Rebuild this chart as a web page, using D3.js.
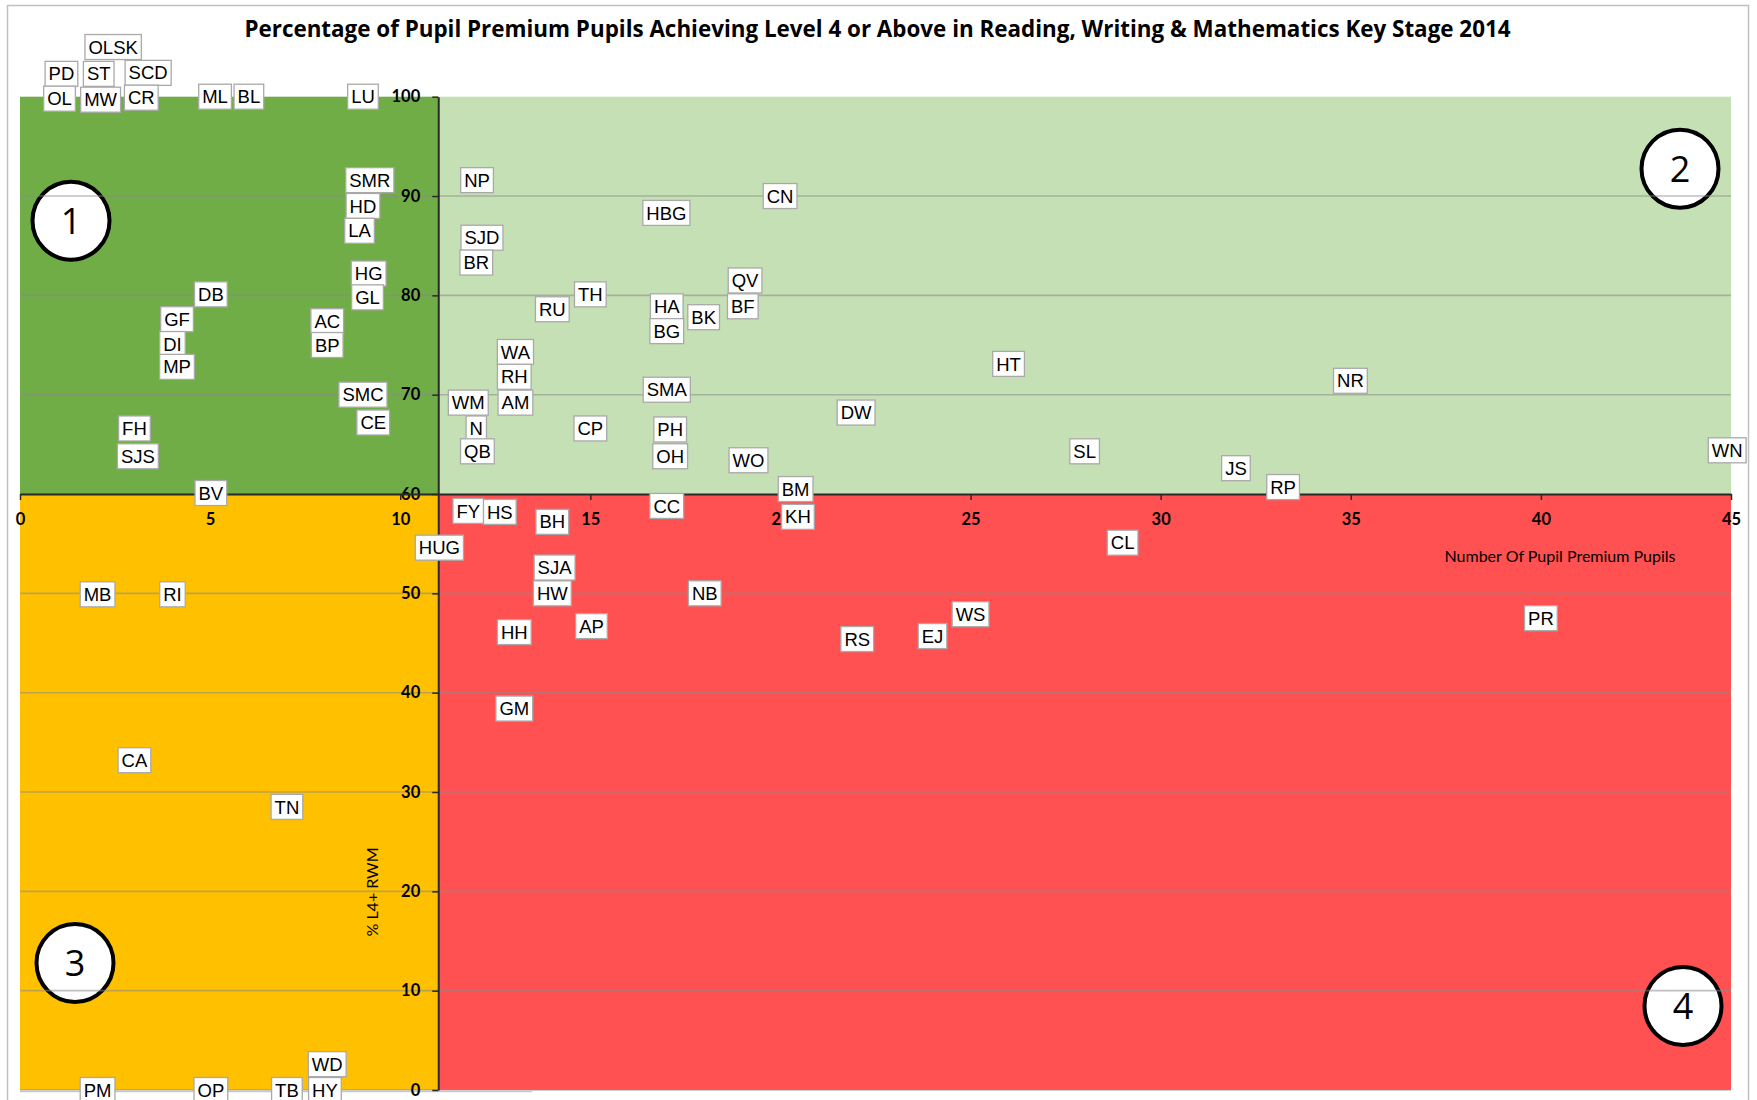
<!DOCTYPE html>
<html>
<head>
<meta charset="utf-8">
<script src="https://cdn.jsdelivr.net/npm/d3@7"></script>
<style>
    body { margin: 0; background: #fff; }
</style>
</head>
<body>
<div id="chart"></div>
<script>
'use strict';

// school codes, number of pupil premium pupils, % L4+ RWM
var schools = ['OLSK', 'PD', 'ST', 'SCD', 'OL', 'MW', 'CR', 'ML', 'BL', 'LU',
    'SMR', 'HD', 'LA', 'HG', 'GL', 'DB', 'GF', 'DI', 'MP', 'AC', 'BP', 'SMC', 'CE', 'FH', 'SJS', 'BV',
    'NP', 'SJD', 'BR', 'RU', 'TH', 'WA', 'RH', 'AM', 'WM', 'N', 'QB', 'CP',
    'HBG', 'CN', 'QV', 'BF', 'HA', 'BK', 'BG', 'SMA', 'PH', 'OH', 'WO', 'DW', 'HT', 'NR', 'SL', 'JS', 'RP', 'WN', 'BM',
    'FY', 'HS', 'BH', 'CC', 'KH', 'HUG', 'SJA', 'HW', 'NB', 'HH', 'AP', 'GM', 'CL', 'RS', 'EJ', 'WS', 'PR',
    'MB', 'RI', 'CA', 'TN', 'WD', 'PM', 'OP', 'TB', 'HY'];
var pupils = [2.45, 1.09, 2.07, 3.37, 1.04, 2.12, 3.19, 5.13, 6.02, 9.02,
    9.2, 9.02, 8.93, 9.17, 9.14, 5.02, 4.13, 4.01, 4.13, 8.08, 8.08, 9.02, 9.29, 3.01, 3.1, 5.02,
    12.02, 12.15, 12.0, 14.0, 15.0, 13.03, 13.0, 13.03, 11.79, 12.0, 12.03, 15.0,
    17.0, 19.99, 19.07, 19.01, 17.01, 17.98, 17.01, 17.01, 17.1, 17.1, 19.16, 21.99, 26.0, 34.99, 28.0, 31.98, 33.22, 44.9, 20.4,
    11.79, 12.62, 14.0, 17.01, 20.46, 11.03, 14.06, 14.0, 18.01, 13.0, 15.03, 13.0, 29.0, 22.02, 24.0, 25.0, 40.0,
    2.04, 4.01, 3.01, 7.02, 8.08, 2.04, 5.02, 7.02, 8.02];
var percents = [105.0, 102.3, 102.3, 102.4, 99.8, 99.7, 99.9, 100.0, 100.0, 100.0,
    91.6, 89.0, 86.5, 82.2, 79.8, 80.1, 77.6, 75.1, 72.8, 77.4, 75.0, 70.0, 67.2, 66.6, 63.8, 60.1,
    91.6, 85.8, 83.3, 78.6, 80.1, 74.3, 71.8, 69.2, 69.2, 66.6, 64.3, 66.6,
    88.3, 90.0, 81.5, 78.9, 78.9, 77.8, 76.4, 70.5, 66.5, 63.8, 63.4, 68.2, 73.1, 71.4, 64.3, 62.6, 60.7, 64.4, 60.5,
    58.3, 58.2, 57.2, 58.8, 57.7, 54.6, 52.6, 50.0, 50.0, 46.1, 46.7, 38.4, 55.1, 45.4, 45.7, 47.9, 47.5,
    49.9, 49.9, 33.2, 28.5, 2.6, 0, 0, 0, 0];

var xTicks = [0, 5, 10, 15, 20, 25, 30, 35, 40, 45];
var yTicks = [0, 10, 20, 30, 40, 50, 60, 70, 80, 90, 100];
var xSplit = 11;
var ySplit = 60;
var quadrantNames = ['1', '2', '3', '4'];
var quadrantColors = ['#70AD47', '#C5E0B4', '#FFC000', '#FF5151'];

var W = 1757, H = 1100;
var x = d3.scaleLinear().domain([0, 45]).range([20, 1731]);
var y = d3.scaleLinear().domain([0, 100]).range([1090, 96.7]);

var svg = d3.select('#chart').append('svg')
    .attr('width', W)
    .attr('height', H)
    .style('font-family', 'Lato, sans-serif');

// outer chart frame
svg.append('rect')
    .attr('x', 7.5).attr('y', 5.5)
    .attr('width', 1741).attr('height', 1110)
    .attr('fill', '#fff')
    .attr('stroke', '#c0c0c0')
    .attr('stroke-width', 1.5);

// quadrant blocks
var xd = x.domain(), yd = y.domain();
var blocks = [
    [xd[0], xSplit, ySplit, yd[1]],
    [xSplit, xd[1], ySplit, yd[1]],
    [xd[0], xSplit, yd[0], ySplit],
    [xSplit, xd[1], yd[0], ySplit]
];
svg.append('g').selectAll('rect')
    .data(blocks)
    .join('rect')
    .attr('x', function (b) { return x(b[0]); })
    .attr('y', function (b) { return y(b[3]); })
    .attr('width', function (b) { return x(b[1]) - x(b[0]); })
    .attr('height', function (b) { return y(b[2]) - y(b[3]); })
    .attr('fill', function (b, i) { return quadrantColors[i]; });

// numbered circles, one in the outer corner of each quadrant
var plotL = x(xd[0]), plotR = x(xd[1]), plotT = y(yd[1]), plotB = y(yd[0]);
var circlePos = [[plotL + 51, plotT + 124], [plotR - 51, plotT + 72], [plotL + 55, plotB - 127], [plotR - 48, plotB - 84]];
var circles = svg.append('g').selectAll('g')
    .data(quadrantNames)
    .join('g')
    .attr('transform', function (d, i) { return 'translate(' + circlePos[i][0] + ',' + circlePos[i][1] + ')'; });
circles.append('ellipse')
    .attr('rx', 38.5).attr('ry', 39)
    .attr('fill', '#fff')
    .attr('stroke', '#000')
    .attr('stroke-width', 4);
circles.append('text')
    .attr('text-anchor', 'middle')
    .attr('dy', 13)
    .style('font-family', '"Open Sans", sans-serif')
    .style('font-size', '36px')
    .text(function (d) { return d; });

// gridlines
svg.append('g').selectAll('line')
    .data(yTicks.filter(function (t) { return t !== ySplit && t !== yd[1]; }))
    .join('line')
    .attr('x1', plotL).attr('x2', plotR)
    .attr('y1', function (t) { return y(t); })
    .attr('y2', function (t) { return y(t); })
    .attr('stroke', '#8a8a8a')
    .attr('stroke-opacity', 0.55)
    .attr('stroke-width', 1.6);

// thin line under the plot
svg.append('line')
    .attr('x1', plotL).attr('x2', 532)
    .attr('y1', plotB + 1.5).attr('y2', plotB + 1.5)
    .attr('stroke', '#c8c8c8').attr('stroke-width', 1.5);

// axes
var yAxis = svg.append('g')
    .attr('transform', 'translate(' + x(xSplit) + ',0)')
    .call(d3.axisLeft(y).tickValues(yTicks).tickSize(6).tickSizeOuter(0).tickPadding(12));
var xAxis = svg.append('g')
    .attr('transform', 'translate(0,' + y(ySplit) + ')')
    .call(d3.axisBottom(x).tickValues(xTicks).tickSize(6).tickSizeOuter(0).tickPadding(13));

[yAxis, xAxis].forEach(function (ax) {
    ax.select('.domain').attr('stroke', '#2a2a2a').attr('stroke-width', 2);
    ax.selectAll('.tick line').attr('stroke', '#2a2a2a').attr('stroke-width', 1.5);
    ax.selectAll('.tick text')
        .attr('fill', '#000')
        .style('font-family', 'Lato, sans-serif')
        .style('font-weight', 'bold')
        .style('font-size', '16.5px');
});

// axis titles
svg.append('text')
    .attr('x', 1560).attr('y', 562)
    .attr('text-anchor', 'middle')
    .style('font-size', '16px')
    .text('Number Of Pupil Premium Pupils');
svg.append('text')
    .attr('transform', 'translate(378,892) rotate(-90)')
    .attr('text-anchor', 'middle')
    .style('font-size', '16px')
    .text('% L4+ RWM');

// title
svg.append('text')
    .attr('x', 877.5).attr('y', 37)
    .attr('text-anchor', 'middle')
    .style('font-family', '"Open Sans", sans-serif')
    .style('font-weight', 'bold')
    .style('font-size', '22.4px')
    .text('Percentage of Pupil Premium Pupils Achieving Level 4 or Above in Reading, Writing & Mathematics Key Stage 2014');

// school labels
var labels = svg.append('g').selectAll('g')
    .data(schools)
    .join('g')
    .attr('transform', function (d, i) { return 'translate(' + x(pupils[i]) + ',' + y(percents[i]) + ')'; });
labels.append('rect')
    .attr('fill', '#fff')
    .attr('stroke', '#a9a9a9')
    .attr('stroke-width', 1.3);
labels.append('text')
    .attr('text-anchor', 'middle')
    .attr('dy', 6.6)
    .style('font-family', '"Liberation Sans", Arial, sans-serif')
    .style('font-size', '18.5px')
    .text(function (d) { return d; });
labels.each(function () {
    var g = d3.select(this);
    var w = g.select('text').node().getComputedTextLength() + 7;
    g.select('rect')
        .attr('x', -w / 2).attr('y', -12.5)
        .attr('width', w).attr('height', 25);
});
</script>
</body>
</html>
